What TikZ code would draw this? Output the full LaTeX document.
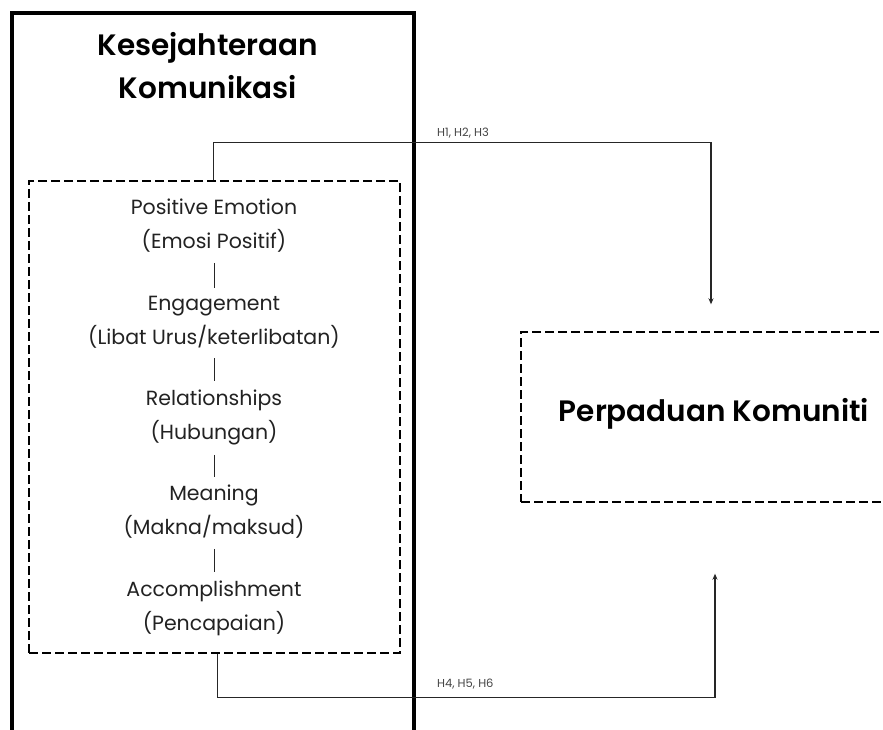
\documentclass[tikz,border=0pt]{standalone}
\usepackage{fontspec}
\setmainfont{Poppins}[BoldFont={* SemiBold}]
\usepackage{tikz}
\usetikzlibrary{positioning}
\usetikzlibrary{arrows.meta}

\definecolor{inktext}{HTML}{222222}
\definecolor{labelgray}{HTML}{444444}

\tikzset{
    itembox/.style={align=center, inner sep=0pt, text=inktext, font=\fontsize{20.5}{34}\selectfont},
    dashbox/.style={draw, line width=1.4pt, dash pattern=on 9pt off 4pt, rectangle},
    link/.style={line width=1.2pt, draw=black!85},
    hlabel/.style={text=labelgray, inner sep=0pt, font=\fontsize{11.5}{13}\selectfont}
}

\begin{document}
\begin{tikzpicture}[x=1pt, y=-1pt]
        \clip (0,0) rectangle (883,730);
        % outer frame (open at the bottom)
        \draw[line width=3.4pt] (12,760) -- (12,13) -- (414,13) -- (414,760);
        \node[align=center, font=\bfseries\fontsize{29.5}{43}\selectfont] (title) at (208,66) {Kesejahteraan\\Komunikasi};
        % containers
        \node[dashbox, minimum width=371pt, minimum height=472pt] (wellbeing) at (214.5,417) {};
        \node[dashbox, minimum width=380pt, minimum height=170pt] (cohesion) at (711,417) {};
        \node[font=\bfseries\fontsize{29.5}{32}\selectfont] (cohesiontext) at (714,414) {Perpaduan Komuniti};
        % PERMA items
        \node[itembox] (pos) at (214,226) {Positive Emotion\\(Emosi Positif)};
        \node[itembox] (eng) at (214,322) {Engagement\\(Libat Urus/keterlibatan)};
        \node[itembox] (rel) at (214,417) {Relationships\\(Hubungan)};
        \node[itembox] (mea) at (214,512) {Meaning\\(Makna/maksud)};
        \node[itembox] (acc) at (214,608) {Accomplishment\\(Pencapaian)};
        \foreach \a/\b in {pos/eng, eng/rel, rel/mea, mea/acc}
            \draw[link, line width=0.9pt, shorten <=10pt, shorten >=8pt] (\a.south) -- (\b.north);
        % hypothesis arrows
        \draw[link, -{Stealth[length=6pt, width=5pt]}, shorten >=27pt] ([xshift=-1pt]wellbeing.north) -- ++(0,-38) -| (cohesion.north);
        \draw[link, -{Stealth[length=6pt, width=5pt]}, shorten >=71pt] ([xshift=3pt]wellbeing.south) -- ++(0,44) -| ([xshift=4pt]cohesion.south);
        \node[hlabel, anchor=south west] (htop) at (437,138) {H1, H2, H3};
        \node[hlabel, anchor=south west] (hbot) at (437,689) {H4, H5, H6};
    \end{tikzpicture}
\end{document}
